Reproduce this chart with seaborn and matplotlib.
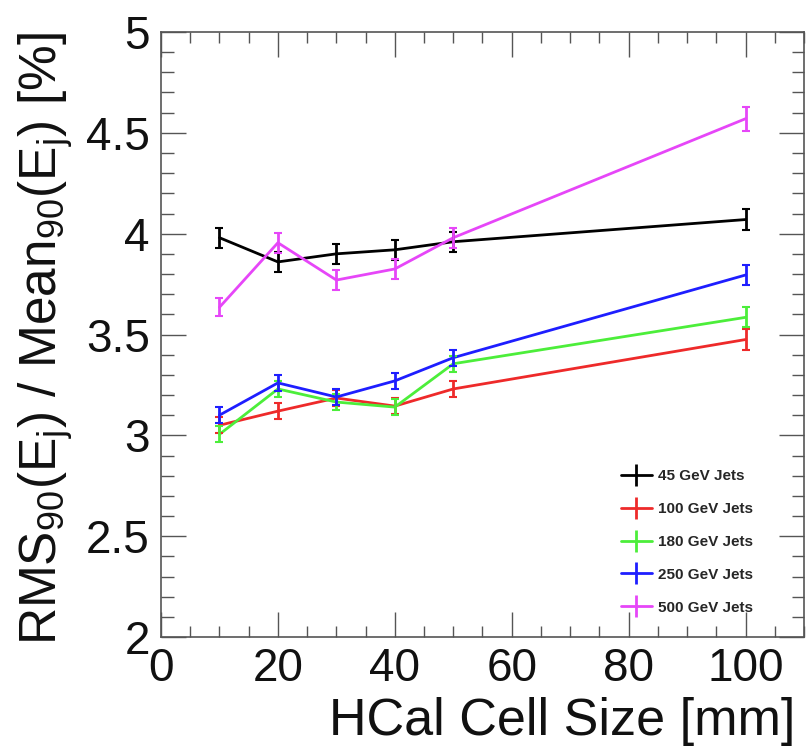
import numpy as np
import pandas as pd
import matplotlib
matplotlib.use("Agg")
import matplotlib.pyplot as plt
from matplotlib.lines import Line2D
from matplotlib.ticker import MultipleLocator, FuncFormatter
import seaborn as sns

# ---------------- data ----------------
cell_size = [10, 20, 30, 40, 50, 100]
series_labels = ["45 GeV Jets", "100 GeV Jets", "180 GeV Jets", "250 GeV Jets", "500 GeV Jets"]
res_45 = [3.98, 3.86, 3.90, 3.92, 3.96, 4.07]
res_100 = [3.05, 3.12, 3.185, 3.145, 3.23, 3.475]
res_180 = [3.005, 3.23, 3.165, 3.14, 3.355, 3.585]
res_250 = [3.10, 3.26, 3.19, 3.27, 3.385, 3.795]
res_500 = [3.635, 3.955, 3.77, 3.825, 3.98, 4.57]
err_45 = [0.05, 0.05, 0.05, 0.05, 0.05, 0.05]
err_100 = [0.04, 0.04, 0.04, 0.04, 0.04, 0.05]
err_180 = [0.04, 0.04, 0.04, 0.04, 0.04, 0.05]
err_250 = [0.04, 0.04, 0.04, 0.04, 0.04, 0.05]
err_500 = [0.045, 0.05, 0.05, 0.05, 0.05, 0.06]
colors = ["#000000", "#ee2a2a", "#4cee3a", "#1e1eff", "#e646f8"]

values = [res_45, res_100, res_180, res_250, res_500]
errors = [err_45, err_100, err_180, err_250, err_500]

rows = []
for lab, vals, errs in zip(series_labels, values, errors):
    for x, v, e in zip(cell_size, vals, errs):
        rows.append({"cell": x, "res": v, "err": e, "series": lab})
df = pd.DataFrame(rows)

# ---------------- style ----------------
sns.set_style("ticks")
plt.rcParams["font.family"] = ["Liberation Sans", "DejaVu Sans"]
plt.rcParams["mathtext.fontset"] = "custom"
plt.rcParams["mathtext.rm"] = "Liberation Sans"
plt.rcParams["mathtext.it"] = "Liberation Sans"

W, H = 809, 746
fig = plt.figure(figsize=(W / 100, H / 100), dpi=100)
ax = fig.add_axes([161 / W, 1 - 637 / H, 643 / W, 605 / H])

sns.lineplot(data=df, x="cell", y="res", hue="series", hue_order=series_labels,
             palette=colors, linewidth=2.0, legend=False, sort=False,
             errorbar=None, ax=ax)

for lab, col in zip(series_labels, colors):
    sub = df[df["series"] == lab]
    ax.errorbar(sub["cell"], sub["res"], yerr=sub["err"], fmt="none",
                ecolor=col, elinewidth=2.0, capsize=3, capthick=1.5, zorder=3)

ax.set_xlim(0, 110)
ax.set_ylim(2, 5)
ax.xaxis.set_major_locator(MultipleLocator(20))
ax.xaxis.set_minor_locator(MultipleLocator(5))
ax.yaxis.set_major_locator(MultipleLocator(0.5))
ax.yaxis.set_minor_locator(MultipleLocator(0.1))
ax.yaxis.set_major_formatter(FuncFormatter(lambda v, p: f"{v:g}"))

ax.tick_params(axis="both", which="both", direction="in", top=True, right=True,
               color="#555555", width=1.0, labelcolor="#111111")
ax.tick_params(axis="x", which="major", length=18, labelsize=33, pad=7)
ax.tick_params(axis="x", which="minor", length=8)
ax.tick_params(axis="y", which="major", length=18, labelsize=33, pad=8)
ax.tick_params(axis="y", which="minor", length=9)
for s in ax.spines.values():
    s.set_color("#555555")
    s.set_linewidth(1.2)

ax.set_xlabel("")
ax.set_ylabel("")
fig.text(795 / W, 11 / H, "HCal Cell Size [mm]", ha="right", va="baseline",
         fontsize=37.5, color="#111111")
fig.text(57 / W, 1 - 32 / H,
         r"RMS$_{90}$(E$_{\rm j}$) / Mean$_{90}$(E$_{\rm j}$) [%]",
         rotation=90, rotation_mode="anchor", ha="right", va="baseline",
         fontsize=37, color="#111111")

handles = [Line2D([], [], color=c, marker="|", markersize=16, markeredgewidth=2,
                  linewidth=2, linestyle="-") for c in colors]
leg = fig.legend(handles, series_labels, loc="upper left",
                 bbox_to_anchor=(621 / W, 1 - 469 / H), bbox_transform=fig.transFigure,
                 frameon=False, prop={"size": 11, "weight": "bold"},
                 handlelength=2.0, handletextpad=0.4, labelspacing=1.24,
                 borderpad=0, borderaxespad=0)

fig.savefig("out.png", dpi=100)
